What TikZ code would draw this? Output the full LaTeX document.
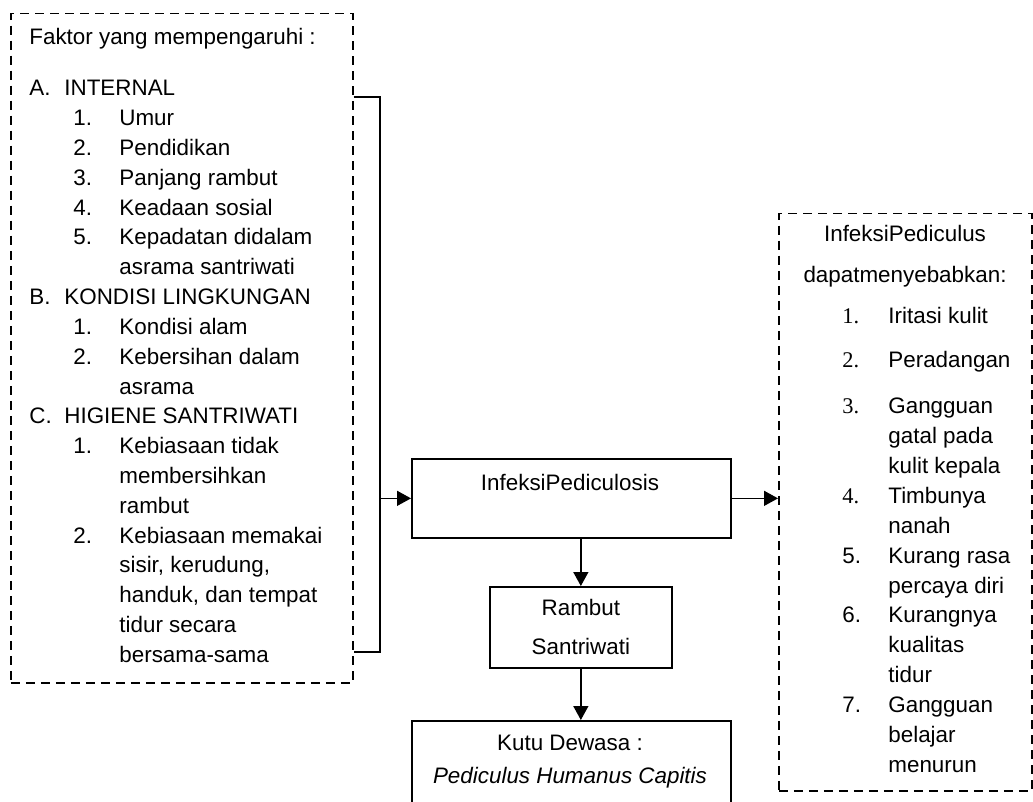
\documentclass[tikz,border=0pt]{standalone}
\usepackage{fontspec}
\setmainfont{Liberation Sans}
\newfontfamily\numserif{Liberation Serif}
\usetikzlibrary{arrows.meta, positioning}

\tikzset{
    txt/.style={anchor=base west, inner sep=0pt, font=\fontsize{11.2}{14}\selectfont},
    ctxt/.style={txt, anchor=base},
    box/.style={draw, line width=0.85pt, inner sep=0pt},
    dbox/.style={draw, line width=0.75pt, dash pattern=on 4.5pt off 3pt, inner sep=0pt},
    arr/.style={-{Triangle[length=7pt,width=7.5pt]}, line width=0.7pt},
}

\begin{document}
\begin{tikzpicture}[x=0.5pt, y=-0.5pt]
    \useasboundingbox (0,0) rectangle (1033,802);
    %
    \node[dbox, anchor=north west, minimum width=171pt, minimum height=334.5pt] (faktor) at (10,13) {};
    \node[txt] (judul) at (29,45) {Faktor yang mempengaruhi :};
    \foreach \i/\l/\t in {0/A./INTERNAL, 7/B./KONDISI LINGKUNGAN, 11/C./HIGIENE SANTRIWATI} {
        \node[txt] (h\i) at (29,96+29.8*\i) {\l};
        \node[txt] (ht\i) at (64,96+29.8*\i) {\t};
    }
    \foreach \i/\n/\t in {1/1./Umur, 2/2./Pendidikan, 3/3./Panjang rambut, 4/4./Keadaan sosial,
        5/5./Kepadatan didalam, 6//asrama santriwati, 8/1./Kondisi alam, 9/2./Kebersihan dalam,
        10//asrama, 12/1./Kebiasaan tidak, 13//membersihkan, 14//rambut, 15/2./Kebiasaan memakai,
        16//{sisir, kerudung,}, 17//{handuk, dan tempat}, 18//tidur secara, 19//bersama-sama} {
        \node[txt] (n\i) at (73,96+29.8*\i) {\n};
        \node[txt] (t\i) at (119,96+29.8*\i) {\t};
    }
    %
    \node[box, anchor=north west, minimum width=159.5pt, minimum height=39.5pt] (infeksi) at (411,458) {};
    \node[ctxt] (infeksitxt) at (570,490) {InfeksiPediculosis};
    %
    \node[box, anchor=north west, minimum width=91pt, minimum height=40.5pt, align=center,
          font=\fontsize{11.2}{19.5}\selectfont] (rambut) at (489,586) {Rambut\\Santriwati};
    %
    \node[box, anchor=north west, minimum width=159.5pt, minimum height=50pt] (kutu) at (411,720) {};
    \node[ctxt] (kututxt) at (570,750) {Kutu Dewasa :};
    \node[ctxt, font=\fontsize{11.2}{14}\selectfont\itshape] (kutuital) at (570,783) {Pediculus Humanus Capitis};
    %
    \node[dbox, anchor=north west, minimum width=126.5pt, minimum height=288.5pt] (akibat) at (778,213) {};
    \node[ctxt] (akibat1) at (905,242) {InfeksiPediculus};
    \node[ctxt] (akibat2) at (905,283) {dapatmenyebabkan:};
    \foreach \y/\n/\t in {323/{\numserif 1.}/Iritasi kulit, 367/{\numserif 2.}/Peradangan,
        413/{\numserif 3.}/Gangguan, 443//gatal pada, 473//kulit kepala, 503/{\numserif 4.}/Timbunya,
        533//nanah, 563/5./Kurang rasa, 593//percaya diri, 622/6./Kurangnya, 652//kualitas,
        682//tidur, 712/7./Gangguan, 742//belajar, 772//menurun} {
        \node[txt] (rn\y) at (842,\y) {\n};
        \node[txt] (rt\y) at (888,\y) {\t};
    }
    %
    \coordinate (brtop) at (380,97);
    \coordinate (brbot) at (380,652);
    \draw[line width=0.8pt] (faktor.east |- brtop) -- (brtop) -- (brbot) -- (faktor.east |- brbot);
    \draw[arr] (brtop |- infeksi.west) -- (infeksi.west);
    \draw[arr] (infeksi.east) -- (infeksi.east -| akibat.west);
    \draw[arr] (rambut.north |- infeksi.south) -- (rambut.north);
    \draw[arr] (rambut.south) -- (rambut.south |- kutu.north);
\end{tikzpicture}
\end{document}
